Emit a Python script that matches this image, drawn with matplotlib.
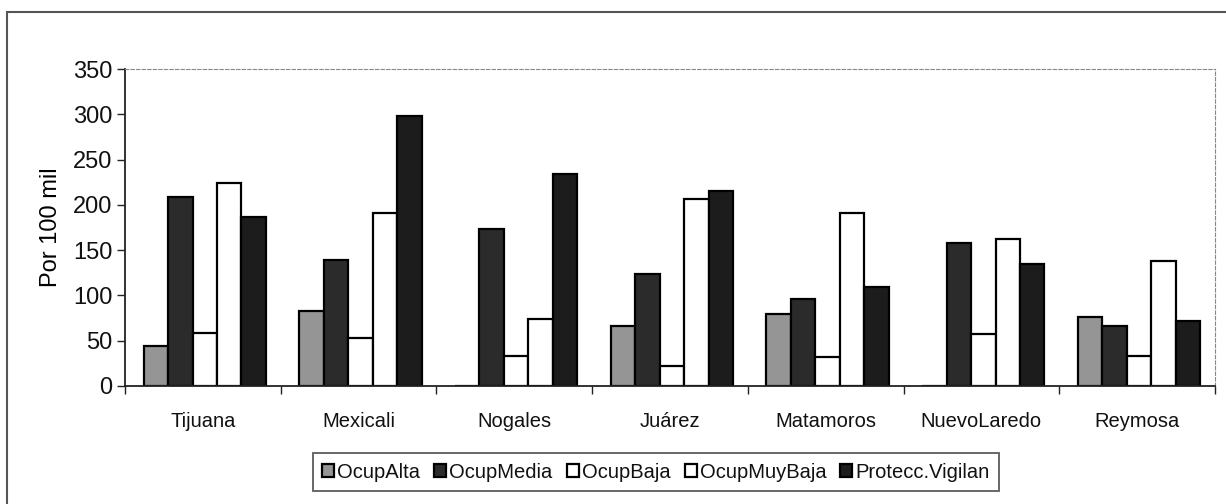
import matplotlib
matplotlib.use("Agg")
import matplotlib.pyplot as plt
import numpy as np
from matplotlib.patches import Rectangle

plt.rcParams['font.family'] = ['Liberation Sans', 'DejaVu Sans']
plt.rcParams['text.color'] = '#111111'
plt.rcParams['xtick.color'] = '#222222'
plt.rcParams['ytick.color'] = '#222222'

cities = ["Tijuana", "Mexicali", "Nogales", "Juárez", "Matamoros", "NuevoLaredo", "Reymosa"]
series_names = ["OcupAlta", "OcupMedia", "OcupBaja", "OcupMuyBaja", "Protecc.Vigilan"]
ocup_alta = [44, 83, 0, 66, 80, 0, 76]
ocup_media = [209, 139, 173, 124, 96, 158, 66]
ocup_baja = [59, 53, 33, 22, 32, 57, 33]
ocup_muy_baja = [224, 191, 74, 207, 191, 162, 138]
protecc = [187, 298, 234, 215, 109, 135, 72]
yticks = [0, 50, 100, 150, 200, 250, 300, 350]

series = [ocup_alta, ocup_media, ocup_baja, ocup_muy_baja, protecc]
colors = ["#959595", "#2b2b2b", "#ffffff", "#ffffff", "#1c1c1c"]

W, H = 1226, 504
fig = plt.figure(figsize=(W / 100, H / 100), dpi=100)
ax = fig.add_axes([125 / W, 1 - 386 / H, (1215 - 125) / W, (386 - 69) / H])

x = np.arange(len(cities))
bw = 0.157
for i, (vals, c) in enumerate(zip(series, colors)):
    ax.bar(x + (i - 2) * bw + 0.012, vals, width=bw, color=c, edgecolor="black",
           linewidth=1.6, label=series_names[i])

ax.set_xlim(-0.5, len(cities) - 0.5)
ax.set_ylim(0, 350)
ax.set_yticks(yticks)
ax.set_yticklabels([str(v) for v in yticks], fontsize=17)
ax.tick_params(axis="y", direction="out", length=6, width=1, pad=3, labelcolor='#111111')
ax.set_xticks(x)
ax.set_xticklabels(cities, fontsize=14.5)
ax.tick_params(axis="x", which="major", length=0, pad=19, labelcolor='#111111')
ax.set_xticks(np.arange(-0.5, len(cities) + 0.5, 1), minor=True)
ax.tick_params(axis="x", which="minor", direction="out", length=6, width=1)
ax.set_ylabel("Por 100 mil", fontsize=17, labelpad=8)

for s in ["left", "bottom"]:
    ax.spines[s].set_color("#222222")
    ax.spines[s].set_linewidth(1.3)
for s in ["top", "right"]:
    ax.spines[s].set_color("#888888")
    ax.spines[s].set_linewidth(0.8)
    ax.spines[s].set_linestyle((0, (3, 2)))

leg = fig.legend(loc="center", bbox_to_anchor=(0.535, 1 - 472 / H), ncol=5,
                 fontsize=14.5, frameon=True, fancybox=False, edgecolor="#333333",
                 handlelength=0.6, handleheight=0.6, handletextpad=0.15,
                 columnspacing=0.7, borderpad=0.45, borderaxespad=0)
leg.get_frame().set_linewidth(1.3)

fig.patches.append(Rectangle((7 / W, -0.1), 1.2, 1 - 12 / H + 0.1, transform=fig.transFigure,
                             fill=False, edgecolor="#555555", linewidth=1.5))

fig.savefig("out.png", dpi=100)
